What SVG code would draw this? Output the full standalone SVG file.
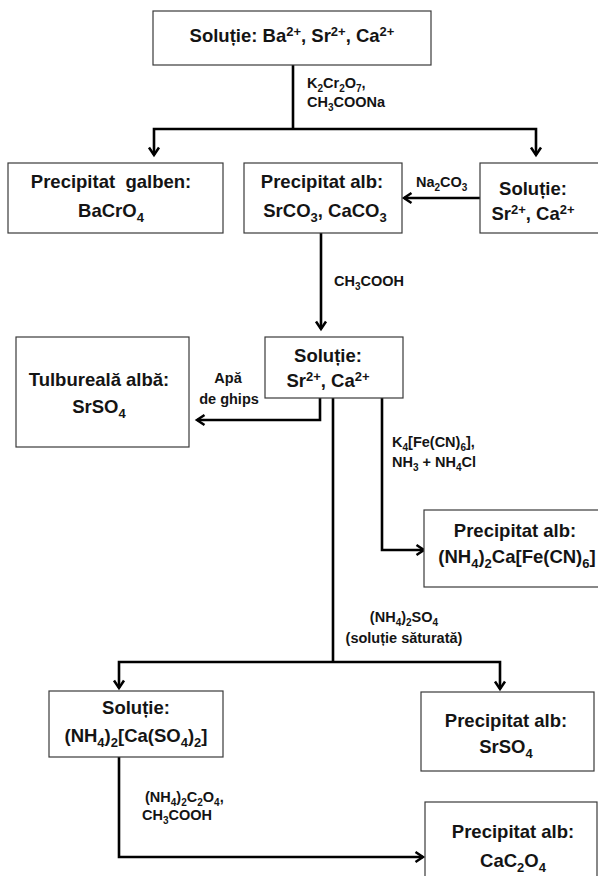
<svg xmlns="http://www.w3.org/2000/svg" width="598" height="876" viewBox="0 0 598 876">
  <style>
    .box { fill: #fff; stroke: #3a3a3a; stroke-width: 1.2; }
    .t { font-family: "Liberation Sans", Arial, sans-serif; font-weight: bold; font-size: 18.5px; fill: #141414; text-anchor: middle; }
    .l { font-family: "Liberation Sans", Arial, sans-serif; font-weight: bold; font-size: 14.5px; fill: #141414; }
    .lm { text-anchor: middle; }
    .bs { font-size: 13px; }
    .ls { font-size: 10px; }
    .wire { fill: none; stroke: #000; stroke-width: 2.6; }
  </style>
  <defs>
    <marker id="arr" markerUnits="userSpaceOnUse" markerWidth="14" markerHeight="14" viewBox="-10 -7 14 14" refX="0" refY="0" orient="auto">
      <path d="M-7.5,-5 L0,0 L-7.5,5" fill="none" stroke="#000" stroke-width="2.5"/>
    </marker>
  </defs>

  <!-- connectors -->
  <g id="connectors" class="wire">
    <path d="M293,65 V129"/>
    <path d="M293,129 H154 V155" marker-end="url(#arr)"/>
    <path d="M293,129 H536 V155" marker-end="url(#arr)"/>
    <path d="M480,198 H404" marker-end="url(#arr)"/>
    <path d="M321,233 V329" marker-end="url(#arr)"/>
    <path d="M320,398 V420 H197" marker-end="url(#arr)"/>
    <path d="M382,398 V550 H424" marker-end="url(#arr)"/>
    <path d="M333,398 V662"/>
    <path d="M333,662 H119 V688" marker-end="url(#arr)"/>
    <path d="M333,662 H500 V689" marker-end="url(#arr)"/>
    <path d="M119,757 V857 H423" marker-end="url(#arr)"/>
  </g>

  <!-- reagent labels -->
  <g id="labels">
    <text class="l" x="307" y="88">K<tspan class="ls" dy="4">2</tspan><tspan dy="-4">Cr</tspan><tspan class="ls" dy="4">2</tspan><tspan dy="-4">O</tspan><tspan class="ls" dy="4">7</tspan><tspan dy="-4">,</tspan></text>
    <text class="l" x="307" y="107">CH<tspan class="ls" dy="4">3</tspan><tspan dy="-4">COONa</tspan></text>
    <text class="l" x="416" y="187">Na<tspan class="ls" dy="4">2</tspan><tspan dy="-4">CO</tspan><tspan class="ls" dy="4">3</tspan></text>
    <text class="l" x="334" y="286">CH<tspan class="ls" dy="4">3</tspan><tspan dy="-4">COOH</tspan></text>
    <text class="l lm" x="228" y="383">Apă</text>
    <text class="l lm" x="229" y="404">de ghips</text>
    <text class="l" x="392" y="447">K<tspan class="ls" dy="4">4</tspan><tspan dy="-4">[Fe(CN)</tspan><tspan class="ls" dy="4">6</tspan><tspan dy="-4">],</tspan></text>
    <text class="l" x="392" y="467">NH<tspan class="ls" dy="4">3</tspan><tspan dy="-4"> + NH</tspan><tspan class="ls" dy="4">4</tspan><tspan dy="-4">Cl</tspan></text>
    <text class="l lm" x="404" y="622">(NH<tspan class="ls" dy="4">4</tspan><tspan dy="-4">)</tspan><tspan class="ls" dy="4">2</tspan><tspan dy="-4">SO</tspan><tspan class="ls" dy="4">4</tspan></text>
    <text class="l lm" x="404" y="643">(soluție săturată)</text>
    <text class="l" x="145" y="802">(NH<tspan class="ls" dy="4">4</tspan><tspan dy="-4">)</tspan><tspan class="ls" dy="4">2</tspan><tspan dy="-4">C</tspan><tspan class="ls" dy="4">2</tspan><tspan dy="-4">O</tspan><tspan class="ls" dy="4">4</tspan><tspan dy="-4">,</tspan></text>
    <text class="l" x="142" y="820">CH<tspan class="ls" dy="4">3</tspan><tspan dy="-4">COOH</tspan></text>
  </g>

  <!-- nodes -->
  <g id="start">
    <rect class="box" x="153" y="11" width="278" height="54"/>
    <text class="t" x="292" y="42">Soluție: Ba<tspan class="bs" dy="-6">2+</tspan><tspan dy="6">, Sr</tspan><tspan class="bs" dy="-6">2+</tspan><tspan dy="6">, Ca</tspan><tspan class="bs" dy="-6">2+</tspan></text>
  </g>

  <g id="bacro4">
    <rect class="box" x="8" y="163" width="215" height="70"/>
    <text class="t" x="111" y="188" xml:space="preserve">Precipitat  galben:</text>
    <text class="t" x="111" y="217">BaCrO<tspan class="bs" dy="5">4</tspan></text>
  </g>

  <g id="carbonates">
    <rect class="box" x="244" y="163" width="158" height="70"/>
    <text class="t" x="322" y="188">Precipitat alb:</text>
    <text class="t" x="325" y="217">SrCO<tspan class="bs" dy="5">3</tspan><tspan dy="-5">, CaCO</tspan><tspan class="bs" dy="5">3</tspan></text>
  </g>

  <g id="filtrate1">
    <rect class="box" x="480" y="163" width="130" height="70"/>
    <text class="t" x="533" y="195">Soluție:</text>
    <text class="t" x="533" y="220">Sr<tspan class="bs" dy="-6">2+</tspan><tspan dy="6">, Ca</tspan><tspan class="bs" dy="-6">2+</tspan></text>
  </g>

  <g id="srso4-turbid">
    <rect class="box" x="16" y="337" width="173" height="110"/>
    <text class="t" x="99" y="386">Tulbureală albă:</text>
    <text class="t" x="99" y="413">SrSO<tspan class="bs" dy="5">4</tspan></text>
  </g>

  <g id="filtrate2">
    <rect class="box" x="265" y="337" width="138" height="61"/>
    <text class="t" x="328" y="362">Soluție:</text>
    <text class="t" x="328" y="387">Sr<tspan class="bs" dy="-6">2+</tspan><tspan dy="6">, Ca</tspan><tspan class="bs" dy="-6">2+</tspan></text>
  </g>

  <g id="ferrocyanide">
    <rect class="box" x="424" y="510" width="185" height="77"/>
    <text class="t" x="515" y="537">Precipitat alb:</text>
    <text class="t" x="517" y="563">(NH<tspan class="bs" dy="5">4</tspan><tspan dy="-5">)</tspan><tspan class="bs" dy="5">2</tspan><tspan dy="-5">Ca[Fe(CN)</tspan><tspan class="bs" dy="5">6</tspan><tspan dy="-5">]</tspan></text>
  </g>

  <g id="sulfatocalcate">
    <rect class="box" x="49" y="691" width="174" height="66"/>
    <text class="t" x="136" y="714">Soluție:</text>
    <text class="t" x="136" y="742">(NH<tspan class="bs" dy="5">4</tspan><tspan dy="-5">)</tspan><tspan class="bs" dy="5">2</tspan><tspan dy="-5">[Ca(SO</tspan><tspan class="bs" dy="5">4</tspan><tspan dy="-5">)</tspan><tspan class="bs" dy="5">2</tspan><tspan dy="-5">]</tspan></text>
  </g>

  <g id="srso4">
    <rect class="box" x="421" y="692" width="173" height="79"/>
    <text class="t" x="506" y="727">Precipitat alb:</text>
    <text class="t" x="506" y="753">SrSO<tspan class="bs" dy="5">4</tspan></text>
  </g>

  <g id="cac2o4">
    <rect class="box" x="425" y="802" width="172" height="90"/>
    <text class="t" x="513" y="838">Precipitat alb:</text>
    <text class="t" x="513" y="867">CaC<tspan class="bs" dy="5">2</tspan><tspan dy="-5">O</tspan><tspan class="bs" dy="5">4</tspan></text>
  </g>
</svg>
